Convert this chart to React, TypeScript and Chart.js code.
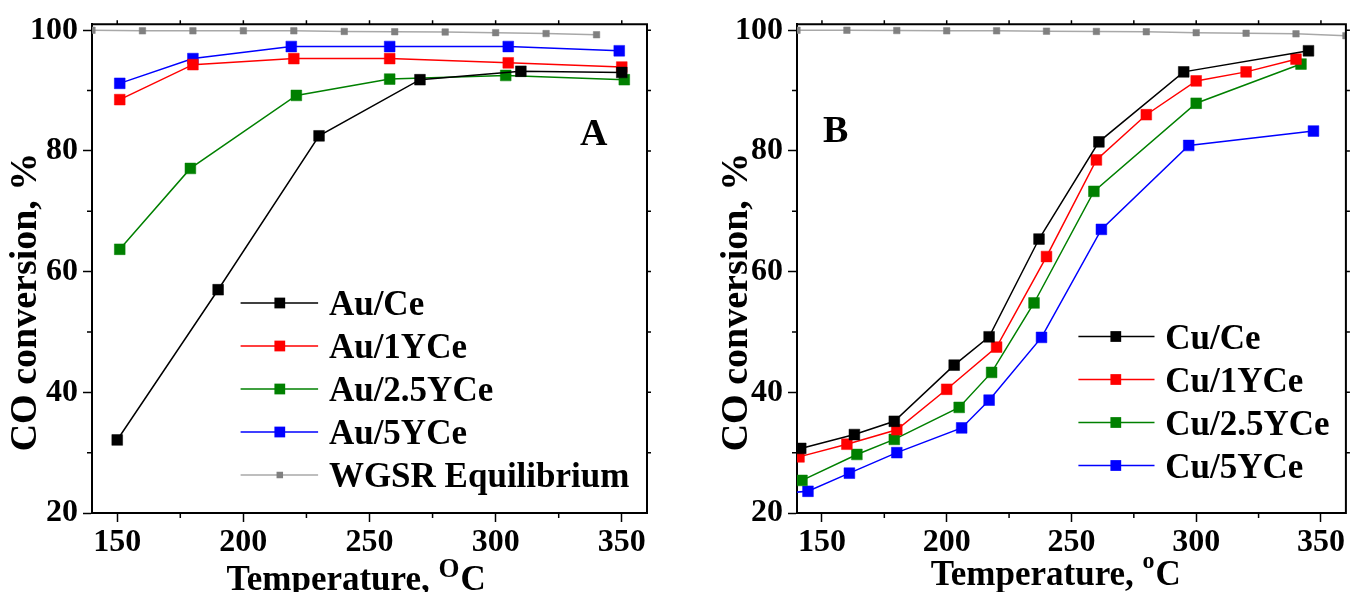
import React, { useEffect, useRef } from "react";
import { Chart, registerables } from "chart.js";

Chart.register(...registerables);

const FONT = '"Liberation Serif", "Times New Roman", serif';

// ---------- Panel A data ----------
const auCeT = [150, 190, 230, 270, 310, 350];
const auCe = [32.1, 57.0, 82.5, 91.8, 93.2, 93.0];
const au1T = [151, 180, 220, 258, 305, 350];
const au1 = [88.5, 94.3, 95.3, 95.3, 94.6, 93.9];
const au25T = [151, 179, 221, 258, 304, 351];
const au25 = [63.7, 77.1, 89.2, 91.9, 92.5, 91.8];
const au5T = [151, 180, 219, 258, 305, 349];
const au5 = [91.2, 95.3, 97.3, 97.3, 97.3, 96.6];
const eqAT = [140, 160, 180, 200, 220, 240, 260, 280, 300, 320, 340];
const eqA = [100, 99.9, 99.9, 99.9, 99.9, 99.8, 99.75, 99.7, 99.6, 99.45, 99.25];

// ---------- Panel B data ----------
const cuCeT = [141.5, 163, 179, 203, 217, 237, 261, 295, 345];
const cuCe = [30.7, 33.0, 35.2, 44.5, 49.2, 65.4, 81.5, 93.1, 96.6];
const cu1T = [140.8, 160, 180, 200, 220, 240, 260, 280, 300, 320, 340];
const cu1 = [29.3, 31.4, 33.8, 40.5, 47.5, 62.5, 78.5, 86.0, 91.6, 93.1, 95.2];
const cu25T = [142, 164, 179, 205, 218, 235, 259, 300, 342];
const cu25 = [25.4, 29.7, 32.2, 37.5, 43.3, 54.8, 73.3, 87.9, 94.4];
const cu5T = [135, 144.4, 161, 180, 206, 217, 238, 262, 297, 347];
const cu5 = [23.3, 23.6, 26.6, 30.0, 34.1, 38.7, 49.1, 67.0, 80.9, 83.3];
const eqBT = [140, 160, 180, 200, 220, 240, 260, 280, 300, 320, 340, 360];
const eqB = [100, 100, 99.95, 99.9, 99.9, 99.85, 99.8, 99.75, 99.6, 99.5, 99.4, 99.1];

const xTickValues = [150, 200, 250, 300, 350];
const yTickValues = [20, 40, 60, 80, 100];

const X_MIN = 140;
const X_MAX = 360;
const Y_MIN = 20;
const Y_MAX = 101;

const toPts = (xs: number[], ys: number[]) => xs.map((x, i) => ({ x, y: ys[i] }));

function series(label: string, xs: number[], ys: number[], color: string, small = false, lineColor?: string) {
  return {
    label,
    data: toPts(xs, ys),
    borderColor: lineColor || color,
    backgroundColor: color,
    borderWidth: 1.5,
    pointStyle: "rect",
    pointRadius: small ? 4.6 : 7.6,
    pointHoverRadius: small ? 4.6 : 7.6,
    pointBackgroundColor: color,
    pointBorderColor: color,
    pointBorderWidth: 0.5,
    tension: 0,
    fill: false,
  };
}

function drawDecor(chart: any, opts: any, legendDatasets: any[]) {
  const { ctx, chartArea: ca } = chart;
  const xs = chart.scales.x;
  const ys = chart.scales.y;
  ctx.save();
  ctx.strokeStyle = "#000";
  ctx.lineWidth = 2;
  ctx.beginPath();
  ctx.moveTo(ca.left - 1, ca.top);
  ctx.lineTo(ca.right, ca.top);
  ctx.lineTo(ca.right, ca.bottom + 1);
  ctx.stroke();

  ctx.lineWidth = 1.5;
  ctx.beginPath();
  for (let v = 150; v <= 350; v += 25) {
    const px = xs.getPixelForValue(v);
    if (v % 50 !== 0) {
      ctx.moveTo(px, ca.bottom);
      ctx.lineTo(px, ca.bottom + 5);
    }
    ctx.moveTo(px, ca.top);
    ctx.lineTo(px, ca.top - 4);
  }
  for (let v = 30; v <= 100; v += 10) {
    const py = ys.getPixelForValue(v);
    if (v % 20 !== 0) {
      ctx.moveTo(ca.left, py);
      ctx.lineTo(ca.left - 5, py);
    }
    ctx.moveTo(ca.right, py);
    ctx.lineTo(ca.right + 4, py);
  }
  ctx.stroke();

  // legend
  const lg = opts.legend;
  legendDatasets.forEach((ds: any, i: number) => {
    const y = lg.y0 + i * lg.dy;
    ctx.strokeStyle = ds.borderColor;
    ctx.lineWidth = 1.5;
    ctx.beginPath();
    ctx.moveTo(lg.x1, y);
    ctx.lineTo(lg.x2, y);
    ctx.stroke();
    const side = ds.pointRadius * Math.SQRT2;
    ctx.fillStyle = ds.pointBackgroundColor;
    ctx.fillRect(lg.mx - side / 2, y - side / 2, side, side);
    ctx.fillStyle = "#000";
    ctx.font = `bold ${lg.size}px ${FONT}`;
    ctx.textAlign = "left";
    ctx.textBaseline = "alphabetic";
    ctx.fillText(ds.label, lg.tx, y + 12);
  });

  // panel letter
  ctx.fillStyle = "#000";
  ctx.font = `bold ${opts.letter.size}px ${FONT}`;
  ctx.textAlign = "left";
  ctx.textBaseline = "alphabetic";
  ctx.fillText(opts.letter.text, opts.letter.x, opts.letter.y);

  // y title
  ctx.save();
  ctx.translate(opts.yTitle.x, opts.yTitle.y);
  ctx.rotate(-Math.PI / 2);
  ctx.font = `bold ${opts.yTitle.size}px ${FONT}`;
  ctx.textAlign = "center";
  ctx.textBaseline = "middle";
  ctx.fillText(opts.yTitle.text, 0, 0);
  ctx.restore();

  // x title with superscript
  const xt = opts.xTitle;
  ctx.textAlign = "left";
  ctx.textBaseline = "alphabetic";
  ctx.font = `bold ${xt.size}px ${FONT}`;
  let cx = xt.x;
  ctx.fillText(xt.main, cx, xt.y);
  cx += ctx.measureText(xt.main).width;
  ctx.font = `bold ${xt.supSize}px ${FONT}`;
  ctx.fillText(xt.sup, cx, xt.supY);
  cx += ctx.measureText(xt.sup).width + 1;
  ctx.font = `bold ${xt.size}px ${FONT}`;
  ctx.fillText(xt.unit, cx, xt.y);
  ctx.restore();
}

function makeConfig(datasets: any[], legendCount: number, pad: any, decor: any) {
  return {
    type: "line",
    data: { datasets },
    plugins: [
      {
        id: "decor",
        afterDraw(chart: any, _args: any, opts: any) {
          drawDecor(chart, opts, chart.data.datasets.slice(0, legendCount));
        },
      },
    ],
    options: {
      responsive: false,
      maintainAspectRatio: false,
      animation: false,
      events: [],
      layout: { padding: { left: pad.left, right: pad.right, top: pad.top, bottom: pad.bottom } },
      plugins: {
        legend: { display: false },
        tooltip: { enabled: false },
        decor,
      },
      scales: {
        x: {
          type: "linear",
          min: X_MIN,
          max: X_MAX,
          afterBuildTicks: (s: any) => {
            s.ticks = xTickValues.map((v) => ({ value: v }));
          },
          afterFit: (s: any) => {
            s.height = 79;
          },
          border: { display: true, color: "#000", width: 2 },
          grid: {
            display: true,
            drawOnChartArea: false,
            drawTicks: true,
            tickLength: 9,
            tickWidth: 1.5,
            tickColor: "#000",
          },
          ticks: {
            color: "#000",
            padding: 2,
            maxRotation: 0,
            autoSkip: false,
            font: { family: FONT, size: 32, weight: "bold" },
            callback: (v: any) => String(v),
          },
        },
        y: {
          type: "linear",
          min: Y_MIN,
          max: Y_MAX,
          afterBuildTicks: (s: any) => {
            s.ticks = yTickValues.map((v) => ({ value: v }));
          },
          afterFit: (s: any) => {
            s.width = pad.yWidth;
          },
          border: { display: true, color: "#000", width: 2 },
          grid: {
            display: true,
            drawOnChartArea: false,
            drawTicks: true,
            tickLength: 9,
            tickWidth: 1.5,
            tickColor: "#000",
          },
          ticks: {
            color: "#000",
            padding: 5,
            autoSkip: false,
            font: { family: FONT, size: 32, weight: "bold" },
            callback: (v: any) => String(v),
          },
        },
      },
    },
  };
}

function configA() {
  const ds = [
    series("Au/Ce", auCeT, auCe, "#000000"),
    series("Au/1YCe", au1T, au1, "#ff0000"),
    series("Au/2.5YCe", au25T, au25, "#008000"),
    series("Au/5YCe", au5T, au5, "#0000ff"),
    series("WGSR Equilibrium", eqAT, eqA, "#808080", true, "#a8a8a8"),
  ];
  return makeConfig(ds, 5, { left: 0, right: 30, top: 21, bottom: 0, yWidth: 92 }, {
    legend: { x1: 240.6, x2: 318.1, mx: 279.8, tx: 328.9, y0: 303, dy: 43, size: 35 },
    letter: { text: "A", x: 580, y: 145, size: 38 },
    yTitle: { text: "CO conversion, %", x: 26, y: 302, size: 38 },
    xTitle: { main: "Temperature, ", sup: "O", unit: "C", x: 226.6, y: 590, size: 35, supSize: 27, supY: 576.5 },
  });
}

function configB() {
  const ds = [
    series("Cu/Ce", cuCeT, cuCe, "#000000"),
    series("Cu/1YCe", cu1T, cu1, "#ff0000"),
    series("Cu/2.5YCe", cu25T, cu25, "#008000"),
    series("Cu/5YCe", cu5T, cu5, "#0000ff"),
    series("WGSR Equilibrium", eqBT, eqB, "#808080", true, "#a8a8a8"),
  ];
  return makeConfig(ds, 4, { left: 0, right: 2, top: 23, bottom: 0, yWidth: 120 }, {
    legend: { x1: 401.4, x2: 477.5, mx: 438.8, tx: 488.3, y0: 336.5, dy: 43, size: 35 },
    letter: { text: "B", x: 146, y: 141.5, size: 38 },
    yTitle: { text: "CO conversion, %", x: 60, y: 302, size: 38 },
    xTitle: { main: "Temperature, ", sup: "o", unit: "C", x: 253.7, y: 585, size: 35, supSize: 24, supY: 568 },
  });
}

function Panel({ make, left }: { make: () => any; left: number }) {
  const ref = useRef<HTMLCanvasElement | null>(null);
  useEffect(() => {
    if (!ref.current) return;
    const chart = new Chart(ref.current, make());
    return () => chart.destroy();
  }, []);
  return (
    <canvas
      ref={ref}
      width={677}
      height={592}
      style={{ position: "absolute", left, top: 0, width: 677, height: 592 }}
    />
  );
}

export default function App() {
  return (
    <div
      style={{
        position: "absolute",
        left: 0,
        top: 0,
        width: 1354,
        height: 592,
        background: "#ffffff",
        overflow: "hidden",
      }}
    >
      <Panel make={configA} left={0} />
      <Panel make={configB} left={677} />
    </div>
  );
}
